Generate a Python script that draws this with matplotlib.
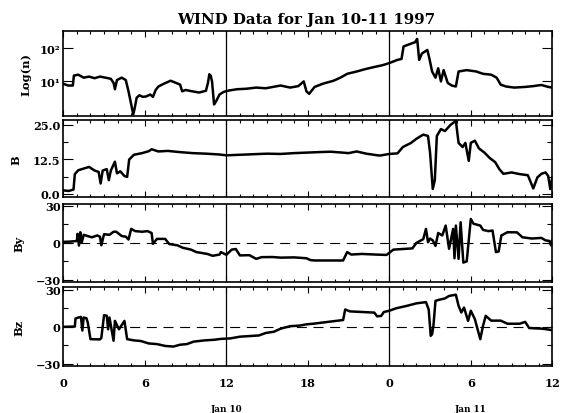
import matplotlib
matplotlib.use("Agg")
import matplotlib.pyplot as plt
from matplotlib.ticker import FixedLocator, FixedFormatter, MultipleLocator, NullLocator, NullFormatter

# ---------------- data (hours since Jan 10 00:00) ----------------
t_n = [0.0, 0.35, 0.7, 0.78, 1.1, 1.5, 1.9, 2.3, 2.7, 3.1,
       3.5, 3.7, 3.8, 3.95, 4.3, 4.6, 4.8, 5.0, 5.15, 5.25,
       5.4, 5.6, 5.85, 6.1, 6.4, 6.6, 6.8, 7.0, 7.4, 7.9,
       8.3, 8.6, 8.75, 9.0, 9.5, 10.0, 10.5, 10.65, 10.75, 10.85,
       10.95, 11.1, 11.25, 11.5, 11.8, 12.2, 12.8, 13.5, 14.2, 14.9,
       15.6, 16.0, 16.7, 17.3, 17.7, 17.9, 18.1, 18.5, 19.1, 19.9,
       20.4, 20.9, 21.6, 22.3, 23.0, 23.5, 24.0, 24.6, 24.9, 25.05,
       25.5, 25.9, 26.05, 26.2, 26.4, 26.8, 26.95, 27.15, 27.4, 27.6,
       27.8, 28.0, 28.3, 28.6, 28.9, 29.1, 29.7, 30.4, 30.9, 31.5,
       31.9, 32.2, 32.6, 33.2, 34.0, 34.6, 35.2, 35.7, 36.0]
n_vals = [8.5, 7.5, 7.5, 15, 16, 13, 14, 12.5, 14, 13,
          12, 9, 5.8, 11, 13, 11, 5, 2, 1.0, 1.5,
          3.2, 3.8, 3.4, 3.5, 4.0, 3.4, 5.5, 7, 8.5, 10.5,
          9, 8, 5, 5.5, 5.0, 4.6, 5.2, 9, 16.5, 15,
          10, 2, 2.5, 4, 4.8, 5.3, 5.8, 6.0, 6.5, 6.2,
          7.0, 7.5, 6.5, 7.2, 10, 5, 4.2, 6.8, 8.5, 10.5,
          13, 17, 20, 24, 28, 31, 36, 45, 48, 115,
          135, 155, 195, 45, 70, 90, 50, 20, 13, 25,
          10, 22, 9, 7.5, 7, 20, 22, 20, 17, 16,
          13, 8, 7, 6.5, 6.8, 7.2, 7.8, 6.8, 6.5]

t_B = [0.0, 0.4, 0.75, 0.85, 1.1, 1.5, 1.9, 2.3, 2.6, 2.75,
       2.9, 3.2, 3.35, 3.5, 3.8, 3.95, 4.2, 4.5, 4.7, 4.85,
       5.2, 5.8, 6.3, 6.5, 7.0, 7.7, 8.5, 9.5, 10.5, 11.5,
       12.0, 13.0, 14.0, 15.0, 16.0, 17.0, 18.0, 19.0, 19.7, 20.5,
       21.0, 21.6, 22.3, 23.0, 23.3, 24.0, 24.6, 25.0, 25.6, 26.0,
       26.5, 26.85, 27.0, 27.2, 27.35, 27.5, 27.8, 28.1, 28.5, 28.9,
       29.1, 29.4, 29.6, 29.85, 30.0, 30.3, 30.6, 31.0, 31.4, 31.8,
       32.1, 32.4, 33.0, 33.6, 34.2, 34.6, 34.9, 35.2, 35.5, 35.7,
       35.85, 36.0]
B_vals = [1.3, 1.1, 1.6, 7.2, 8.6, 9.2, 9.8, 8.5, 8.0, 3.8,
          8.5, 9.0, 5.0, 8.5, 11.7, 7.5, 8.2, 6.5, 6.2, 12.5,
          14.2, 14.8, 15.5, 16.2, 15.4, 15.6, 15.2, 14.8, 14.6, 14.3,
          14.0, 14.2, 14.4, 14.6, 14.5, 14.8, 15.0, 15.2, 15.3, 15.0,
          14.8, 15.4, 14.6, 14.1, 13.9, 14.5, 14.7, 17.0, 18.5, 20.0,
          21.5, 21.0, 15.0, 1.8, 5.0, 21.0, 23.5, 22.8, 25.0, 26.5,
          18.5, 17.0, 18.5, 12.0, 18.5, 19.3, 16.5, 15.0, 13.0, 11.5,
          9.0, 7.3, 7.8, 7.2, 6.8, 2.0, 6.0, 7.3, 7.8, 6.5,
          1.8, 6.0]

t_By = [0.0, 0.5, 1.0, 1.05, 1.15, 1.25, 1.35, 1.5, 1.8, 2.1,
        2.5, 2.7, 2.8, 3.0, 3.4, 3.7, 3.9, 4.3, 4.6, 4.8,
        5.0, 5.3, 5.8, 6.2, 6.5, 6.6, 6.9, 7.5, 7.8, 8.4,
        8.8, 9.4, 9.8, 10.6, 11.0, 11.5, 11.6, 12.0, 12.4, 12.7,
        13.0, 13.7, 14.2, 14.6, 15.4, 16.0, 17.0, 17.9, 18.2, 18.5,
        19.5, 20.6, 20.9, 21.2, 22.0, 23.0, 23.8, 24.3, 25.0, 25.7,
        26.0, 26.5, 26.7, 26.85, 27.0, 27.2, 27.4, 27.6, 27.9, 28.15,
        28.4, 28.7, 28.8, 28.9, 29.1, 29.25, 29.45, 29.7, 30.0, 30.2,
        30.7, 30.9, 31.3, 31.6, 31.85, 32.05, 32.25, 32.7, 33.4, 33.8,
        34.5, 35.2, 35.5, 35.8, 35.9, 36.0]
By_vals = [0.8, 1.0, 1.5, 7.3, -2.2, 8.6, 0.0, 6.5, 5.5, 4.5,
           6.0, 5.0, -2.0, 7.0, 6.5, 9.0, 9.0, 5.5, 5.0, 2.7,
           11.3, 9.5, 9.0, 9.5, 8.0, -0.8, 3.2, 3.2, -1.0, -2.0,
           -4.0, -5.5, -7.5, -9.0, -10.5, -9.5, -7.5, -9.7, -5.5, -5.0,
           -10.2, -10.0, -13.0, -11.6, -11.5, -12.0, -11.8, -12.5, -14.0, -14.3,
           -14.3, -14.3, -7.5, -9.5, -9.0, -9.5, -9.8, -5.5, -5.0, -4.5,
           0.0, 3.0, 11.3, 0.5, 3.5, 2.0, -2.5, 8.0, 6.0, 14.0,
           -4.8, 11.3, -12.5, 14.0, -13.0, 16.7, -16.0, -15.0, 19.4, 15.5,
           14.0, 10.5, 9.5, 10.0, -7.5, -7.0, 6.0, 8.6, 8.5, 4.5,
           3.5, 4.0, 2.0, 1.5, -2.0, 2.0]

t_Bz = [0.0, 0.85, 0.9, 1.1, 1.3, 1.4, 1.5, 1.7, 1.8, 2.0,
        2.7, 2.8, 3.0, 3.2, 3.3, 3.4, 3.7, 3.8, 4.1, 4.5,
        4.7, 5.2, 5.7, 6.3, 6.9, 7.5, 8.1, 8.6, 9.1, 9.6,
        10.4, 11.1, 11.6, 12.3, 13.0, 13.7, 14.4, 14.9, 15.5, 16.0,
        16.7, 17.4, 17.9, 18.4, 19.5, 20.6, 20.75, 21.1, 22.0, 22.9,
        23.1, 23.4, 23.6, 24.0, 24.5, 25.3, 26.0, 26.7, 26.9, 27.05,
        27.15, 27.25, 27.4, 27.7, 28.1, 28.4, 28.9, 29.1, 29.3, 29.5,
        29.8, 30.0, 30.3, 30.5, 30.7, 30.9, 31.1, 31.5, 32.2, 32.7,
        33.6, 34.0, 34.3, 35.2, 35.6, 36.0]
Bz_vals = [0.0, 0.2, 6.7, 7.5, 8.0, -3.0, 7.5, 7.0, 3.5, -10.0,
           -10.2, -9.0, 9.4, 9.0, -2.0, 7.5, -11.3, 4.8, -2.0, 4.8,
           -10.0, -11.0, -11.5, -13.5, -14.0, -15.5, -16.0, -14.5, -14.0, -12.0,
           -11.0, -10.5, -9.8, -9.4, -8.0, -7.5, -7.0, -5.0, -4.0, -1.5,
           0.5, 1.0, 2.0, 2.5, 4.0, 5.5, 14.0, 12.5, 12.0, 11.5,
           8.5, 8.8, 12.0, 13.0, 15.0, 17.0, 19.0, 20.0, 14.0, -7.3,
           -6.0, 1.0, 21.0, 22.0, 23.0, 25.0, 26.0, 17.0, 11.6, 15.6,
           4.8, 13.0, 6.2, -2.0, -10.0, 0.8, 8.9, 5.0, 5.0, 2.5,
           2.5, 4.0, -1.0, -1.5, -2.0, -2.8]

xtick_pos = [0, 6, 12, 18, 24, 30, 36]
xtick_lab = ['0', '6', '12', '18', '0', '6', '12']
day_labels = ['Jan 10', 'Jan 11']
day_label_pos = [12, 30]
day_lines = [12, 24]

# ---------------- figure ----------------
W, H = 563, 414
fig = plt.figure(figsize=(W / 100, H / 100), dpi=100)
fig.patch.set_facecolor('white')

FONT = 'DejaVu Serif'
left, right = 63.3, 552.3
panels = [(32.3, 116.7), (120.7, 198.3), (205.0, 283.3), (288.3, 366.7)]

def make_ax(top, bot):
    return fig.add_axes([left / W, 1 - bot / H, (right - left) / W, (bot - top) / H])

axes = [make_ax(*p) for p in panels]

series = [(t_n, n_vals), (t_B, B_vals), (t_By, By_vals), (t_Bz, Bz_vals)]
for ax, (t, v) in zip(axes, series):
    ax.plot(t, v, color='black', lw=1.8, solid_joinstyle='round')
    for d in day_lines:
        ax.axvline(d, color='black', lw=0.9)
    ax.set_xlim(0, 36)
    ax.xaxis.set_major_locator(FixedLocator(xtick_pos))
    ax.xaxis.set_minor_locator(MultipleLocator(1))
    ax.tick_params(axis='both', which='both', direction='in', top=True, right=True,
                   width=0.8, colors='black')
    ax.tick_params(axis='x', which='major', length=4.0)
    ax.tick_params(axis='x', which='minor', length=2.2)
    ax.tick_params(axis='y', which='major', length=7.0, pad=2)
    ax.tick_params(axis='y', which='minor', length=3.6)
    for s in ax.spines.values():
        s.set_linewidth(1.2)

# panel 1: density (log)
ax = axes[0]
ax.set_yscale('log')
ax.set_ylim(10 ** -0.04, 10 ** 2.52)
ax.yaxis.set_major_locator(FixedLocator([10, 100]))
ax.yaxis.set_major_formatter(FixedFormatter(['10\u00b9', '10\u00b2']))
ax.yaxis.set_minor_locator(NullLocator())
ax.yaxis.set_minor_formatter(NullFormatter())

# panel 2: B
ax = axes[1]
ax.set_ylim(-1.2, 26.9)
ax.yaxis.set_major_locator(FixedLocator([0, 12.5, 25]))
ax.yaxis.set_major_formatter(FixedFormatter(['0.0', '12.5', '25.0']))
ax.yaxis.set_minor_locator(FixedLocator([6.25, 18.75]))

# panels 3, 4: By, Bz
for ax, yl in ((axes[2], (-32, 31.5)), (axes[3], (-31.5, 32))):
    ax.set_ylim(*yl)
    ax.yaxis.set_major_locator(FixedLocator([-30, 0, 30]))
    ax.yaxis.set_major_formatter(FixedFormatter(['\u221230', '0', '30']))
    ax.yaxis.set_minor_locator(FixedLocator([-15, 15]))
    ax.axhline(0, color='black', lw=0.8, dashes=(9, 6))

for ax in axes:
    for lab in ax.get_yticklabels():
        lab.set_fontfamily(FONT)
        lab.set_fontweight('bold')
        lab.set_fontsize(8.2)

for ax in axes[:-1]:
    ax.xaxis.set_major_formatter(NullFormatter())
axes[-1].xaxis.set_major_formatter(FixedFormatter(xtick_lab))
axes[-1].tick_params(axis='x', which='major', pad=8)
for lab in axes[-1].get_xticklabels():
    lab.set_fontfamily(FONT)
    lab.set_fontweight('bold')
    lab.set_fontsize(8.2)

# y labels
ylabels = [('Log(n)', 26, 75), ('B', 16, 160), ('By', 19, 244), ('Bz', 19, 328)]
for txt, x, y in ylabels:
    fig.text(x / W, 1 - y / H, txt, rotation=90, ha='center', va='center',
             fontfamily=FONT, fontweight='bold', fontsize=8.2)

# title
fig.text(306.5 / W, 1 - 20 / H, 'WIND Data for Jan 10-11 1997', ha='center', va='center',
         fontfamily=FONT, fontweight='bold', fontsize=10.8)

# day labels
for txt, hpos in zip(day_labels, day_label_pos):
    axes[-1].annotate(txt, xy=(hpos, 0), xycoords=('data', 'axes fraction'),
                      xytext=(0, -(410 - 366.7) * 0.72), textcoords='offset points',
                      ha='center', va='center', fontfamily=FONT, fontweight='bold',
                      fontsize=6.3, annotation_clip=False)

fig.savefig('out.png', dpi=100, facecolor='white')
